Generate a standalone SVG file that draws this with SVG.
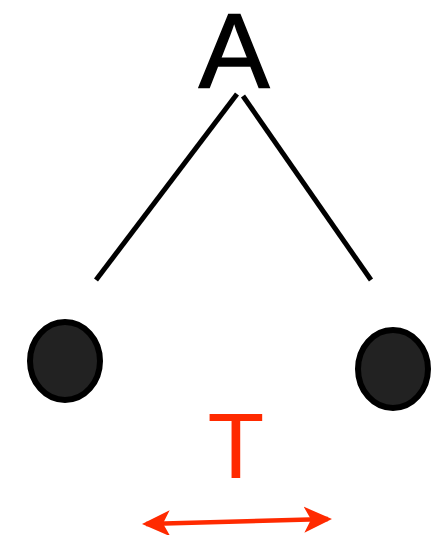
<svg xmlns="http://www.w3.org/2000/svg" width="446" height="535" viewBox="0 0 446 535">
<style>
.edge{stroke:#000;stroke-width:5;fill:none}
.dot{fill:#222;stroke:#000;stroke-width:6}
.red{fill:#ff2a00}
</style>
<defs>
<marker id="ah" markerUnits="userSpaceOnUse" markerWidth="30" markerHeight="30" refX="24" refY="15" orient="auto-start-reverse">
<path d="M0,2 L28,15 L0,28 L7,15 Z" fill="#ff2a00"/>
</marker>
</defs>
<rect width="446" height="535" fill="#fff"/>
<g id="A"><text x="234" y="87" font-family="Liberation Sans, Arial, sans-serif" font-size="106" text-anchor="middle" stroke="#000" stroke-width="1.5">A</text></g>
<g id="connectors">
<line class="edge" x1="237" y1="94" x2="96" y2="280"/>
<line class="edge" x1="243" y1="96" x2="371" y2="280"/>
<line x1="146" y1="524" x2="328" y2="519" stroke="#ff2a00" stroke-width="4.5" marker-start="url(#ah)" marker-end="url(#ah)"/>
</g>
<g id="left"><ellipse class="dot" cx="65" cy="361" rx="35" ry="39"/></g>
<g id="right"><ellipse class="dot" cx="393" cy="369" rx="35" ry="39"/></g>
<g id="T"><text x="236" y="478" class="red" font-family="Liberation Sans, Arial, sans-serif" font-size="93" text-anchor="middle">T</text></g>
</svg>
